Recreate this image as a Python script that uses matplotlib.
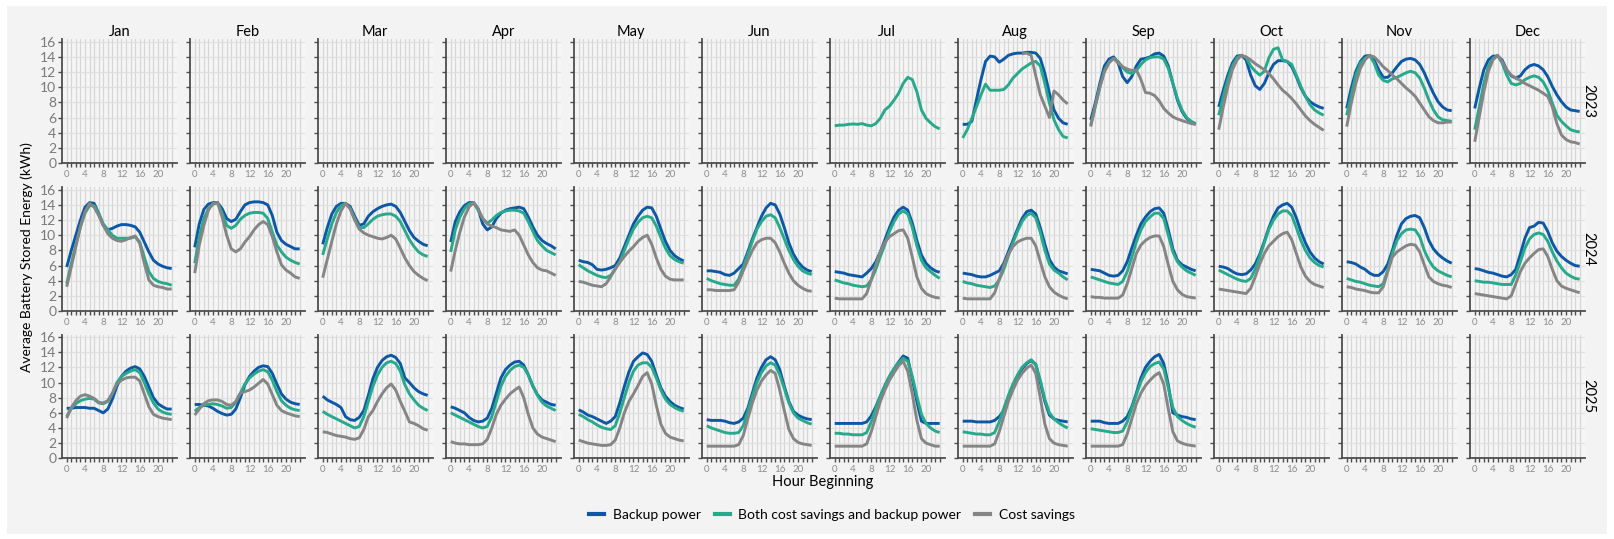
import numpy as np
import matplotlib.pyplot as plt
from matplotlib.patches import Rectangle
from matplotlib.lines import Line2D

plt.rcParams['font.family'] = ['Lato', 'DejaVu Sans']

months = ['Jan', 'Feb', 'Mar', 'Apr', 'May', 'Jun', 'Jul', 'Aug', 'Sep', 'Oct', 'Nov', 'Dec']
years = ['2023', '2024', '2025']
hours = list(range(24))
series = ['Backup power', 'Both cost savings and backup power', 'Cost savings']
colors = ['#0d58a6', '#27a98b', '#858585']
nan = float('nan')

# average stored energy (kWh) by hour
backup_2023 = {
    'Aug': [5.1, 5.1, 5.5, 8.3, 11.0, 13.4, 14.1, 14.0, 13.3, 13.7, 14.2, 14.4, 14.5, 14.5, 14.6, 14.6, 14.5, 13.8, 11.8, 9.2, 7.0, 5.9, 5.3, 5.1],
    'Sep': [5.7, 7.9, 10.5, 12.8, 13.7, 14.0, 13.2, 11.4, 10.6, 11.4, 12.8, 13.7, 13.8, 14.0, 14.4, 14.5, 14.1, 12.8, 10.5, 8.3, 6.8, 5.9, 5.4, 5.1],
    'Oct': [7.4, 9.6, 11.6, 13.2, 14.1, 14.2, 13.6, 11.6, 10.2, 9.7, 10.5, 11.9, 13.0, 13.5, 13.5, 13.4, 12.7, 11.4, 9.9, 8.8, 8.1, 7.7, 7.4, 7.2],
    'Nov': [7.2, 9.9, 12.1, 13.4, 14.1, 14.2, 13.6, 12.3, 11.3, 11.3, 11.9, 12.7, 13.4, 13.7, 13.8, 13.6, 13.0, 11.9, 10.5, 9.2, 8.1, 7.4, 7.0, 6.9],
    'Dec': [7.2, 9.9, 12.3, 13.6, 14.1, 14.1, 13.6, 12.3, 11.5, 11.2, 11.5, 12.3, 12.8, 13.0, 12.8, 12.3, 11.4, 10.1, 9.0, 8.1, 7.4, 7.0, 6.9, 6.8],
}
both_2023 = {
    'Jul': [4.9, 5.0, 5.0, 5.1, 5.15, 5.1, 5.2, 5.0, 4.9, 5.2, 5.9, 7.0, 7.5, 8.3, 9.2, 10.5, 11.3, 11.0, 9.4, 7.0, 5.9, 5.3, 4.8, 4.5],
    'Aug': [3.3, 4.4, 5.9, 7.4, 9.0, 10.4, 9.6, 9.6, 9.6, 9.7, 10.3, 11.2, 11.8, 12.4, 12.8, 13.2, 13.4, 12.8, 10.5, 7.9, 5.7, 4.4, 3.5, 3.3],
    'Sep': [5.0, 7.5, 10.0, 12.2, 13.3, 13.8, 13.4, 12.6, 12.0, 11.8, 12.2, 13.0, 13.6, 13.9, 14.0, 14.0, 13.7, 12.5, 10.5, 8.5, 7.0, 6.0, 5.5, 5.2],
    'Oct': [6.3, 8.8, 11.0, 12.8, 13.9, 14.2, 13.9, 12.8, 12.1, 11.6, 12.1, 13.9, 15.0, 15.2, 13.6, 13.4, 13.0, 11.6, 10.1, 8.8, 7.7, 7.0, 6.6, 6.3],
    'Nov': [6.3, 9.0, 11.6, 13.2, 13.8, 14.2, 13.2, 11.6, 10.9, 10.7, 11.1, 11.3, 11.6, 11.9, 12.1, 11.9, 11.2, 9.9, 8.3, 7.0, 6.1, 5.7, 5.6, 5.5],
    'Dec': [4.4, 7.4, 10.5, 12.8, 13.8, 14.2, 13.2, 11.6, 10.5, 10.3, 10.5, 11.0, 11.3, 11.5, 11.3, 10.7, 9.6, 7.9, 6.3, 5.5, 4.9, 4.4, 4.2, 4.1],
}
cost_2023 = {
    'Aug': [nan] * 13 + [14.4, 14.5, 14.2, 11.5, 9.0, 7.5, 6.0, 9.5, 9.0, 8.3, 7.8],
    'Sep': [4.8, 7.5, 10.0, 12.0, 13.2, 13.8, 13.2, 12.7, 12.4, 12.2, 12.3, 11.0, 9.3, 9.2, 8.9, 8.2, 7.2, 6.6, 6.1, 5.8, 5.6, 5.4, 5.2, 5.1],
    'Oct': [4.4, 7.4, 10.1, 12.3, 13.6, 14.2, 14.0, 13.6, 13.1, 12.7, 12.3, 11.8, 11.1, 10.3, 9.6, 9.1, 8.5, 7.8, 7.0, 6.2, 5.6, 5.1, 4.7, 4.3],
    'Nov': [4.8, 7.9, 10.5, 12.5, 13.6, 14.2, 14.0, 13.4, 12.7, 12.2, 11.6, 11.1, 10.5, 9.9, 9.4, 8.8, 7.9, 7.0, 6.1, 5.6, 5.3, 5.3, 5.4, 5.4],
    'Dec': [2.8, 6.1, 9.4, 12.1, 13.6, 14.2, 13.4, 12.3, 11.6, 11.2, 10.9, 10.5, 10.2, 9.9, 9.6, 9.2, 8.8, 7.4, 5.2, 3.7, 3.1, 2.8, 2.7, 2.5],
}

backup_2024 = {
    'Jan': [5.8, 8.0, 10.0, 12.0, 13.7, 14.3, 14.2, 12.9, 11.3, 10.7, 10.9, 11.2, 11.4, 11.4, 11.3, 11.1, 10.4, 9.1, 7.8, 6.7, 6.2, 5.9, 5.7, 5.6],
    'Feb': [8.4, 11.5, 13.4, 14.1, 14.3, 14.3, 13.5, 12.2, 11.8, 12.1, 13.1, 14.0, 14.3, 14.4, 14.4, 14.3, 14.0, 12.6, 10.4, 9.3, 8.8, 8.5, 8.2, 8.2],
    'Mar': [8.8, 11.0, 12.8, 13.8, 14.2, 14.2, 13.8, 12.5, 11.3, 11.5, 12.5, 13.1, 13.5, 13.8, 14.0, 14.1, 13.8, 13.0, 11.8, 10.6, 9.7, 9.2, 8.8, 8.6],
    'Apr': [9.1, 11.8, 13.1, 13.9, 14.3, 14.3, 13.5, 11.5, 10.7, 11.1, 12.2, 12.9, 13.3, 13.5, 13.6, 13.7, 13.5, 12.4, 11.1, 10.0, 9.3, 8.9, 8.6, 8.2],
    'May': [6.7, 6.5, 6.4, 6.1, 5.5, 5.4, 5.5, 5.7, 6.0, 7.0, 8.5, 10.0, 11.5, 12.5, 13.3, 13.7, 13.6, 12.5, 10.8, 9.2, 8.0, 7.3, 6.9, 6.6],
    'Jun': [5.3, 5.3, 5.2, 5.1, 4.8, 4.7, 5.0, 5.6, 6.2, 7.8, 9.5, 11.0, 12.5, 13.6, 14.2, 14.0, 12.8, 11.0, 9.0, 7.5, 6.5, 5.8, 5.4, 5.2],
    'Jul': [5.2, 5.1, 5.0, 4.8, 4.7, 4.6, 4.5, 5.0, 5.6, 6.5, 7.8, 9.4, 11.0, 12.4, 13.3, 13.7, 13.3, 11.6, 9.3, 7.4, 6.3, 5.7, 5.3, 5.1],
    'Aug': [5.0, 4.9, 4.8, 4.6, 4.5, 4.5, 4.7, 5.0, 5.3, 6.3, 7.8, 9.3, 10.8, 12.2, 13.1, 13.3, 12.8, 11.0, 8.8, 6.8, 5.8, 5.3, 5.1, 4.9],
    'Sep': [5.5, 5.4, 5.3, 5.0, 4.7, 4.6, 4.7, 5.3, 6.5, 8.3, 10.0, 11.5, 12.4, 13.1, 13.5, 13.6, 12.9, 10.7, 8.2, 6.7, 6.1, 5.8, 5.5, 5.3],
    'Oct': [5.9, 5.8, 5.6, 5.2, 4.9, 4.8, 4.9, 5.4, 6.2, 7.5, 9.2, 11.0, 12.5, 13.6, 14.0, 14.2, 13.7, 12.3, 10.5, 9.0, 7.8, 7.0, 6.5, 6.2],
    'Nov': [6.5, 6.4, 6.2, 5.8, 5.5, 5.0, 4.7, 4.7, 5.2, 6.2, 8.0, 10.0, 11.5, 12.2, 12.5, 12.6, 12.3, 11.0, 9.3, 8.2, 7.5, 7.0, 6.6, 6.3],
    'Dec': [5.6, 5.5, 5.3, 5.1, 5.0, 4.8, 4.6, 4.5, 4.8, 5.5, 7.5, 9.6, 11.0, 11.2, 11.7, 11.6, 10.5, 9.0, 7.9, 7.2, 6.7, 6.3, 6.0, 5.9],
}
both_2024 = {
    'Jan': [3.6, 6.3, 8.7, 11.1, 12.9, 13.9, 13.9, 12.9, 11.5, 10.7, 10.0, 9.6, 9.6, 9.6, 9.6, 9.8, 9.1, 7.1, 5.2, 4.3, 3.9, 3.7, 3.6, 3.4],
    'Feb': [6.3, 9.8, 12.2, 13.5, 14.1, 14.3, 12.9, 11.3, 10.9, 11.3, 12.1, 12.6, 12.9, 13.0, 13.0, 12.9, 12.2, 10.4, 8.7, 7.8, 7.1, 6.7, 6.4, 6.2],
    'Mar': [7.4, 9.5, 11.5, 13.0, 13.9, 14.2, 13.5, 12.2, 11.0, 11.0, 11.5, 12.1, 12.5, 12.7, 12.8, 12.8, 12.5, 11.8, 10.6, 9.4, 8.5, 7.8, 7.4, 7.2],
    'Apr': [7.8, 10.7, 12.4, 13.5, 14.1, 14.3, 13.3, 12.2, 11.6, 12.0, 12.6, 13.0, 13.2, 13.3, 13.3, 13.2, 12.9, 11.8, 10.5, 9.3, 8.6, 8.0, 7.7, 7.4],
    'May': [6.1, 5.7, 5.3, 5.0, 4.7, 4.5, 4.4, 4.7, 5.5, 6.5, 8.0, 9.5, 10.8, 11.7, 12.3, 12.5, 12.3, 11.2, 9.7, 8.3, 7.3, 6.8, 6.5, 6.3],
    'Jun': [4.3, 4.0, 3.8, 3.6, 3.5, 3.4, 3.4, 4.2, 5.8, 7.5, 9.2, 10.8, 11.8, 12.5, 12.7, 12.3, 11.0, 9.5, 8.0, 6.8, 5.9, 5.3, 5.0, 4.8],
    'Jul': [4.1, 3.9, 3.7, 3.6, 3.4, 3.3, 3.2, 3.3, 4.1, 5.5, 7.2, 8.8, 10.5, 11.8, 12.8, 13.2, 12.8, 11.0, 8.6, 6.7, 5.7, 5.2, 4.7, 4.3],
    'Aug': [3.9, 3.7, 3.6, 3.4, 3.3, 3.2, 3.1, 3.3, 4.1, 5.5, 7.3, 9.0, 10.5, 11.8, 12.6, 12.9, 12.3, 10.4, 8.0, 6.2, 5.4, 5.0, 4.5, 4.1],
    'Sep': [4.5, 4.3, 4.1, 3.9, 3.7, 3.6, 3.5, 3.9, 5.2, 7.1, 9.1, 10.7, 11.8, 12.4, 12.9, 12.9, 12.2, 10.0, 7.8, 6.5, 5.8, 5.3, 5.0, 4.7],
    'Oct': [5.4, 5.1, 4.8, 4.5, 4.2, 4.0, 3.9, 4.3, 5.5, 7.2, 9.0, 10.8, 12.0, 12.8, 13.2, 13.2, 12.6, 11.0, 9.3, 8.0, 7.0, 6.4, 6.0, 5.8],
    'Nov': [4.3, 4.1, 3.9, 3.8, 3.6, 3.4, 3.3, 3.2, 3.6, 5.4, 7.6, 9.3, 10.2, 10.7, 10.8, 10.7, 9.8, 8.0, 6.7, 5.8, 5.3, 5.0, 4.7, 4.5],
    'Dec': [4.0, 3.9, 3.8, 3.8, 3.7, 3.6, 3.5, 3.5, 3.5, 4.8, 6.5, 8.3, 9.5, 10.1, 10.3, 10.1, 9.2, 7.8, 6.6, 5.7, 5.0, 4.6, 4.3, 4.2],
}
cost_2024 = {
    'Jan': [3.2, 5.8, 8.5, 11.1, 13.1, 14.2, 13.7, 12.6, 11.3, 10.2, 9.6, 9.3, 9.2, 9.4, 9.7, 9.9, 8.9, 6.3, 4.1, 3.4, 3.2, 3.1, 2.9, 2.9],
    'Feb': [5.0, 8.7, 11.3, 13.3, 14.2, 14.3, 12.4, 10.0, 8.2, 7.8, 8.2, 9.1, 9.8, 10.7, 11.4, 11.8, 11.4, 9.8, 7.8, 6.1, 5.4, 5.0, 4.5, 4.3],
    'Mar': [4.4, 6.8, 9.2, 11.5, 13.2, 14.2, 13.5, 12.0, 10.8, 10.3, 10.0, 9.8, 9.6, 9.5, 9.7, 10.0, 9.5, 8.3, 7.0, 6.0, 5.2, 4.7, 4.3, 4.0],
    'Apr': [5.2, 8.0, 10.4, 12.4, 13.7, 14.3, 13.5, 12.2, 11.5, 11.2, 11.0, 10.7, 10.6, 10.5, 10.7, 10.0, 8.7, 7.4, 6.4, 5.7, 5.4, 5.3, 5.0, 4.7],
    'May': [3.9, 3.8, 3.6, 3.4, 3.3, 3.2, 3.6, 4.5, 5.6, 6.4, 7.2, 7.9, 8.5, 9.2, 9.7, 10.0, 8.8, 7.0, 5.5, 4.6, 4.2, 4.1, 4.1, 4.1],
    'Jun': [2.8, 2.8, 2.7, 2.7, 2.7, 2.7, 2.8, 3.8, 5.3, 6.7, 8.0, 9.0, 9.4, 9.6, 9.6, 9.0, 7.8, 6.3, 5.0, 4.0, 3.4, 3.0, 2.7, 2.6],
    'Jul': [1.7, 1.6, 1.6, 1.6, 1.6, 1.6, 1.6, 2.3, 4.1, 6.1, 7.8, 9.1, 9.8, 10.2, 10.6, 10.7, 9.6, 7.1, 4.5, 3.0, 2.3, 2.0, 1.8, 1.7],
    'Aug': [1.7, 1.6, 1.6, 1.6, 1.6, 1.6, 1.6, 2.4, 4.2, 6.0, 7.5, 8.5, 9.1, 9.4, 9.6, 9.6, 8.6, 6.5, 4.5, 3.2, 2.5, 2.1, 1.8, 1.6],
    'Sep': [1.9, 1.8, 1.8, 1.7, 1.7, 1.7, 1.7, 2.1, 3.6, 5.6, 7.6, 8.7, 9.3, 9.7, 9.9, 9.9, 8.5, 6.1, 3.9, 2.8, 2.2, 1.9, 1.8, 1.7],
    'Oct': [2.9, 2.8, 2.7, 2.6, 2.5, 2.4, 2.3, 3.0, 4.5, 6.2, 7.6, 8.6, 9.2, 9.8, 10.2, 10.4, 9.4, 7.6, 5.8, 4.6, 3.9, 3.5, 3.3, 3.1],
    'Nov': [3.2, 3.1, 2.9, 2.8, 2.7, 2.5, 2.4, 2.4, 3.2, 5.2, 7.1, 7.8, 8.2, 8.6, 8.8, 8.7, 7.8, 6.1, 4.5, 3.9, 3.6, 3.4, 3.3, 3.1],
    'Dec': [2.3, 2.2, 2.1, 2.0, 1.9, 1.8, 1.7, 1.6, 2.0, 3.6, 5.2, 6.3, 7.0, 7.6, 8.1, 8.2, 7.2, 5.5, 4.0, 3.3, 3.0, 2.8, 2.6, 2.4],
}

backup_2025 = {
    'Jan': [6.6, 6.6, 6.7, 6.7, 6.7, 6.6, 6.6, 6.3, 6.0, 6.5, 7.8, 9.5, 10.8, 11.5, 11.9, 12.1, 11.8, 10.8, 9.4, 8.0, 7.2, 6.8, 6.5, 6.5],
    'Feb': [7.1, 7.1, 7.0, 6.9, 6.6, 6.2, 5.9, 5.7, 5.8, 6.5, 8.0, 9.7, 10.8, 11.5, 12.0, 12.2, 12.1, 11.2, 9.8, 8.5, 7.8, 7.4, 7.2, 7.1],
    'Mar': [8.2, 7.7, 7.4, 7.1, 6.7, 5.5, 5.1, 5.0, 5.4, 6.3, 8.3, 10.5, 12.0, 12.9, 13.4, 13.6, 13.3, 12.5, 10.6, 10.0, 9.3, 8.8, 8.5, 8.3],
    'Apr': [6.8, 6.6, 6.3, 6.0, 5.4, 5.0, 4.8, 4.9, 5.3, 6.6, 8.6, 10.6, 11.7, 12.3, 12.7, 12.8, 12.3, 11.0, 9.5, 8.4, 7.7, 7.4, 7.1, 7.0],
    'May': [6.4, 6.1, 5.7, 5.5, 5.2, 4.9, 4.6, 4.9, 5.5, 7.3, 9.5, 11.4, 12.8, 13.4, 13.9, 13.7, 12.8, 11.0, 9.3, 8.2, 7.5, 7.0, 6.7, 6.5],
    'Jun': [5.1, 5.0, 5.0, 5.0, 4.9, 4.7, 4.6, 4.8, 5.3, 6.6, 8.6, 10.6, 12.0, 13.0, 13.4, 13.0, 11.7, 9.5, 7.5, 6.2, 5.7, 5.4, 5.2, 5.1],
    'Jul': [4.6, 4.6, 4.6, 4.6, 4.6, 4.6, 4.6, 4.8, 5.6, 6.8, 8.2, 9.6, 10.8, 11.8, 12.7, 13.5, 13.2, 10.5, 7.5, 4.9, 4.6, 4.6, 4.6, 4.6],
    'Aug': [4.9, 4.9, 4.9, 4.8, 4.8, 4.8, 4.8, 5.0, 5.5, 6.3, 7.8, 9.4, 10.8, 11.8, 12.5, 12.9, 12.4, 10.0, 7.5, 5.7, 5.2, 5.0, 4.9, 4.8],
    'Sep': [4.9, 4.9, 4.9, 4.7, 4.6, 4.6, 4.6, 4.9, 5.5, 6.8, 8.6, 10.6, 12.0, 12.8, 13.4, 13.7, 12.5, 9.7, 6.0, 5.7, 5.5, 5.4, 5.2, 5.1],
}
both_2025 = {
    'Jan': [5.5, 6.6, 7.2, 7.6, 7.8, 7.9, 7.8, 7.3, 7.2, 7.5, 8.5, 10.0, 10.8, 11.2, 11.5, 11.7, 11.3, 10.0, 8.5, 7.3, 6.5, 6.1, 5.9, 5.8],
    'Feb': [6.2, 6.7, 7.0, 7.1, 7.2, 7.1, 6.9, 6.6, 6.7, 7.4, 8.6, 9.8, 10.6, 11.1, 11.5, 11.7, 11.4, 10.3, 8.8, 7.6, 7.0, 6.6, 6.4, 6.3],
    'Mar': [6.2, 5.8, 5.5, 5.2, 4.9, 4.6, 4.3, 4.0, 4.2, 5.5, 7.5, 9.5, 11.0, 12.0, 12.6, 12.8, 12.5, 11.5, 9.7, 8.5, 7.7, 7.0, 6.6, 6.3],
    'Apr': [6.0, 5.7, 5.4, 5.1, 4.8, 4.5, 4.2, 4.0, 4.2, 5.5, 7.5, 9.5, 10.8, 11.6, 12.1, 12.3, 12.0, 11.0, 9.6, 8.3, 7.4, 6.9, 6.6, 6.3],
    'May': [5.8, 5.5, 5.1, 4.8, 4.4, 4.1, 3.9, 3.8, 4.3, 6.0, 8.0, 10.0, 11.5, 12.3, 12.6, 12.6, 12.0, 10.6, 9.0, 7.8, 7.1, 6.7, 6.4, 6.2],
    'Jun': [4.3, 4.0, 3.8, 3.6, 3.4, 3.3, 3.3, 3.4, 4.3, 6.2, 8.2, 10.0, 11.3, 12.2, 12.6, 12.3, 11.0, 9.2, 7.3, 6.0, 5.3, 5.0, 4.7, 4.5],
    'Jul': [3.3, 3.3, 3.2, 3.2, 3.1, 3.1, 3.1, 3.4, 4.8, 6.6, 8.2, 9.6, 10.8, 11.8, 12.6, 13.2, 12.8, 10.8, 8.2, 5.8, 4.6, 4.0, 3.6, 3.4],
    'Aug': [3.5, 3.4, 3.3, 3.2, 3.2, 3.1, 3.1, 3.4, 4.8, 6.6, 8.3, 9.8, 11.0, 12.0, 12.6, 13.0, 12.4, 10.3, 7.8, 6.0, 5.2, 4.7, 4.3, 4.0],
    'Sep': [3.9, 3.8, 3.7, 3.6, 3.5, 3.4, 3.4, 3.6, 4.8, 6.6, 8.4, 10.1, 11.3, 12.1, 12.5, 12.7, 11.8, 9.3, 6.7, 5.5, 5.0, 4.6, 4.3, 4.1],
}
cost_2025 = {
    'Jan': [5.3, 6.7, 7.6, 8.2, 8.4, 8.2, 7.9, 7.4, 7.3, 7.6, 8.6, 9.8, 10.3, 10.6, 10.7, 10.7, 10.2, 8.5, 6.8, 5.8, 5.5, 5.3, 5.2, 5.1],
    'Feb': [5.7, 6.5, 7.2, 7.6, 7.7, 7.7, 7.5, 7.1, 7.0, 7.5, 8.6, 8.8, 9.0, 9.4, 9.9, 10.4, 9.8, 8.4, 7.0, 6.3, 6.0, 5.8, 5.6, 5.5],
    'Mar': [3.5, 3.4, 3.2, 3.0, 2.9, 2.8, 2.6, 2.5, 2.7, 3.8, 5.5, 6.3, 7.5, 8.5, 9.3, 9.8, 9.0, 7.5, 6.2, 4.8, 4.6, 4.3, 3.9, 3.7],
    'Apr': [2.2, 2.0, 1.9, 1.9, 1.8, 1.8, 1.8, 1.9, 2.5, 4.0, 5.8, 7.0, 7.8, 8.5, 9.0, 9.4, 8.0, 5.8, 4.0, 3.2, 2.8, 2.6, 2.4, 2.2],
    'May': [2.4, 2.2, 2.0, 1.9, 1.8, 1.7, 1.7, 1.8, 2.4, 4.0, 6.0, 7.5, 8.5, 9.6, 10.8, 11.3, 9.8, 7.0, 4.5, 3.3, 2.8, 2.6, 2.4, 2.3],
    'Jun': [1.6, 1.6, 1.6, 1.6, 1.6, 1.6, 1.6, 1.8, 3.0, 5.2, 7.3, 9.0, 10.2, 11.0, 11.6, 11.2, 9.0, 6.3, 3.8, 2.6, 2.1, 1.9, 1.8, 1.7],
    'Jul': [1.6, 1.6, 1.6, 1.6, 1.6, 1.6, 1.6, 1.9, 3.5, 5.5, 7.5, 9.0, 10.3, 11.3, 12.2, 12.8, 11.5, 8.5, 5.0, 2.6, 2.0, 1.8, 1.6, 1.6],
    'Aug': [1.6, 1.6, 1.6, 1.6, 1.6, 1.6, 1.6, 1.9, 3.5, 5.5, 7.5, 9.0, 10.3, 11.2, 11.9, 12.3, 11.2, 8.0, 4.5, 2.6, 2.0, 1.8, 1.7, 1.6],
    'Sep': [1.6, 1.6, 1.6, 1.6, 1.6, 1.6, 1.6, 1.8, 3.2, 5.2, 7.2, 8.6, 9.6, 10.3, 10.9, 11.3, 9.8, 6.5, 3.5, 2.3, 2.0, 1.8, 1.7, 1.6],
}

data = {
    '2023': [backup_2023, both_2023, cost_2023],
    '2024': [backup_2024, both_2024, cost_2024],
    '2025': [backup_2025, both_2025, cost_2025],
}

W, H = 1614, 539
fig = plt.figure(figsize=(W / 100, H / 100), dpi=100, facecolor='white')
fig.patches.append(Rectangle((7 / W, 5 / H), 1 - 14 / W, 1 - 11 / H, transform=fig.transFigure,
                             facecolor='#f3f3f3', edgecolor='none', zorder=-10))

row_bottom = [163, 311, 458.3]   # pixel y of the zero line in each row
px_per_unit = 7.58
ytop = 16.3
ax_h = ytop * px_per_unit
ax_w = 115
xlab = [str(h) if h % 4 == 0 and h <= 20 else '' for h in hours]

for r, yr in enumerate(years):
    for c, m in enumerate(months):
        left = 61.7 + 128 * c
        ax = fig.add_axes([left / W, 1 - row_bottom[r] / H, ax_w / W, ax_h / H])
        ax.set_facecolor('#f5f5f5')
        ax.set_xlim(-1.1, 24.1)
        ax.set_ylim(0, ytop)
        ax.set_xticks(hours)
        ax.set_xticklabels(xlab)
        ax.set_yticks(range(0, 17, 2))
        ax.grid(axis='x', color='#d6d6d6', lw=0.9)
        ax.grid(axis='y', color='#e0e0e0', lw=0.9)
        ax.set_axisbelow(True)
        for s in ['top', 'right']:
            ax.spines[s].set_visible(False)
        for s in ['left', 'bottom']:
            ax.spines[s].set_color('#4d4d4d')
            ax.spines[s].set_linewidth(1.3)
        ax.tick_params(axis='x', length=3, width=1, color='#4d4d4d', labelsize=7,
                       labelcolor='#8c8c8c', pad=2)
        ax.tick_params(axis='y', length=3, width=1, color='#4d4d4d', labelsize=10,
                       labelcolor='#7a7a7a', pad=1)
        if c > 0:
            ax.set_yticklabels([])
        for k, d in enumerate(data[yr]):
            if m in d:
                ax.plot(hours, d[m], color=colors[k], lw=2.1, solid_capstyle='butt', zorder=3 + k)
        if r == 0:
            ax.set_title(m, fontsize=10.5, pad=1)
    yc = row_bottom[r] - ax_h / 2
    fig.text(1588 / W, 1 - yc / H, yr, rotation=270, ha='center', va='center', fontsize=10.5)

fig.text(27 / W, 1 - 257 / H, 'Average Battery Stored Energy (kWh)', rotation=90,
         ha='center', va='center', fontsize=10)
fig.text(823 / W, 1 - 482 / H, 'Hour Beginning', ha='center', va='center', fontsize=10.5)

handles = [Line2D([], [], color=col, lw=3) for col in colors]
fig.legend(handles, series, loc='center', bbox_to_anchor=(832 / W, 1 - 515 / H), ncol=3,
           frameon=False, fontsize=10, handlelength=1.1, handletextpad=0.6, columnspacing=1.0)

fig.savefig('out.png', dpi=100, facecolor=fig.get_facecolor())
